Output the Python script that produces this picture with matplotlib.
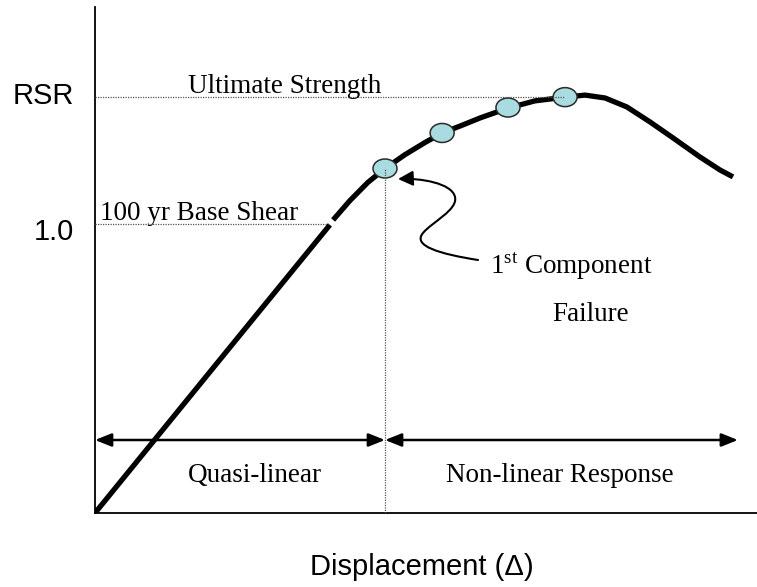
import matplotlib; matplotlib.use('Agg')
import matplotlib.pyplot as plt
from matplotlib.patches import Ellipse, FancyArrowPatch
from matplotlib.path import Path

plt.rcParams['mathtext.fontset'] = 'custom'
plt.rcParams['mathtext.rm'] = 'Liberation Serif'
SERIF = 'Liberation Serif'; SANS = 'Liberation Sans'

# pushover curve: displacement (1.0 = first component failure) vs RSR
disp_lo = [0, 0.5, 0.810]
rsr_lo = [0, 0.616, 0.997]
disp_hi = [0.821, 0.879, 0.941, 1.0, 1.069, 1.138, 1.197, 1.259, 1.328, 1.424, 1.517, 1.621,
           1.690, 1.759, 1.834, 1.914, 1.993, 2.086, 2.155, 2.200]
rsr_hi = [1.014, 1.081, 1.144, 1.192, 1.240, 1.282, 1.315, 1.339, 1.367, 1.401, 1.426, 1.439,
          1.446, 1.436, 1.405, 1.353, 1.298, 1.232, 1.187, 1.163]
# component failures along the curve
fail_x = [1.0, 1.197, 1.424, 1.621]
fail_y = [1.192, 1.315, 1.403, 1.439]
base_shear = 1.0
ultimate = 1.439
first_fail = 1.0
x_end = 2.217

W, H = 757, 587
def px(x, y):  # pixel -> data helper for annotations
    return (x - 95) / 290, (513 - y) / 289

fig = plt.figure(figsize=(W/100, H/100), dpi=100)
ax = fig.add_axes([95/W, (H-513)/H, (W-95)/W, (513-7)/H])
ax.set_xlim(0, (W-95)/290); ax.set_ylim(0, (513-7)/289)
for s in ['top', 'right']: ax.spines[s].set_visible(False)
for s in ['left', 'bottom']: ax.spines[s].set_linewidth(1.3)
ax.set_xticks([]); ax.set_yticks([])

# curve
ax.plot(disp_lo, rsr_lo, color='k', lw=3.8, solid_capstyle='butt', zorder=3)
ax.plot(disp_hi, rsr_hi, color='k', lw=3.8, solid_capstyle='butt', solid_joinstyle='round', zorder=3)

# failure points
for x, y in zip(fail_x, fail_y):
    ax.add_patch(Ellipse((x, y), 24/290, 19/289, facecolor='#A8DCE0', edgecolor='#2a2a2a', lw=1.1, zorder=4))

# reference dotted lines
dot = dict(color='#555555', lw=0.9, linestyle=(0, (1, 1)), zorder=5)
ax.plot([0, fail_x[-1]], [ultimate, ultimate], **dot)
ax.plot([0, 0.805], [base_shear, base_shear], **dot)
ax.plot([first_fail, first_fail], [0, fail_y[0]], **dot)

# range arrows
ya = px(0, 440)[1]
ap = dict(arrowstyle='<|-|>,head_length=0.55,head_width=0.22', mutation_scale=18, lw=1.8, color='k', shrinkA=0, shrinkB=0)
ax.annotate('', xy=(first_fail, ya), xytext=(0, ya), arrowprops=ap)
ax.annotate('', xy=(x_end, ya), xytext=(first_fail, ya), arrowprops=ap)

# curly arrow to first failure
pts = [(478, 260), (440, 254), (412, 246), (423, 233), (432, 222), (458, 210), (455, 197),
       (452, 183), (420, 178), (398, 179)]
verts = [px(*p) for p in pts]
codes = [Path.MOVETO] + [Path.CURVE4]*9
ax.add_patch(FancyArrowPatch(path=Path(verts, codes), arrowstyle='-|>,head_length=0.6,head_width=0.3',
                             mutation_scale=15, lw=1.5, color='k', zorder=6))

# text
fs = 19.5
ax.text(*px(188, 93), 'Ultimate Strength', family=SERIF, size=fs, va='baseline')
ax.text(*px(100, 220), '100 yr Base Shear', family=SERIF, size=fs, va='baseline')
ax.text(*px(490, 274), r'1$^{\rm st}$ Component', family=SERIF, size=fs, va='baseline')
ax.text(*px(552, 321), 'Failure', family=SERIF, size=fs, va='baseline')
ax.text(*px(255, 482), 'Quasi-linear', family=SERIF, size=fs, va='baseline', ha='center')
ax.text(*px(560, 482), 'Non-linear Response', family=SERIF, size=fs, va='baseline', ha='center')

fig.text(74/W, 1 - 96/H, 'RSR', family=SANS, size=21, ha='right', va='center')
fig.text(74/W, 1 - 232/H, '1.0', family=SANS, size=21, ha='right', va='center')
fig.text(422/W, 1 - 567/H, 'Displacement (\u0394)', family=SANS, size=21, ha='center', va='center')

fig.savefig('out.png', dpi=100, facecolor='white')
